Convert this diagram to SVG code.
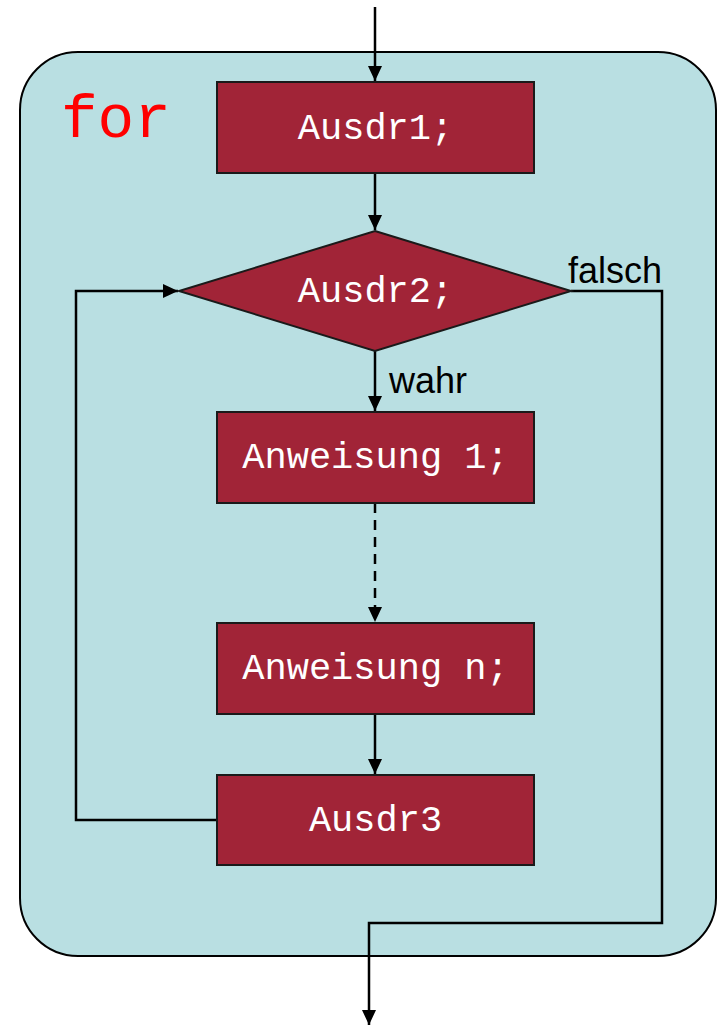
<svg xmlns="http://www.w3.org/2000/svg" width="721" height="1027" viewBox="0 0 721 1027">
<style>
.box{fill:#A12437;stroke:#1a1a1a;stroke-width:2}
.code{font-family:"Liberation Mono","DejaVu Sans Mono",monospace;font-size:37px;fill:#ffffff;text-anchor:middle}
.lbl{font-family:"Liberation Sans",Arial,sans-serif;font-size:36px;fill:#000}
.ln{fill:none;stroke:#000;stroke-width:2.5}
</style>
<defs>
<marker id="ah" markerWidth="16" markerHeight="16" viewBox="0 0 16 16" refX="15" refY="8" orient="auto" markerUnits="userSpaceOnUse">
<path d="M0,1 L15,8 L0,15 Z" fill="#000"/>
</marker>
</defs>
<g id="container">
<rect x="20" y="52" width="696" height="904" rx="58" ry="58" fill="#B9DFE2" stroke="#000" stroke-width="2"/>
<text x="61" y="137" font-family="Liberation Mono,monospace" font-size="61" fill="#FF0000">for</text>
</g>
<g id="connectors">
<line class="ln" x1="375" y1="7" x2="375" y2="81" marker-end="url(#ah)"/>
<line class="ln" x1="375" y1="173" x2="375" y2="230" marker-end="url(#ah)"/>
<line class="ln" x1="375" y1="351" x2="375" y2="411" marker-end="url(#ah)"/>
<line class="ln" x1="375" y1="503" x2="375" y2="622" stroke-dasharray="10,7" marker-end="url(#ah)"/>
<line class="ln" x1="375" y1="714" x2="375" y2="774" marker-end="url(#ah)"/>
<polyline class="ln" points="217,820 76,820 76,291 178,291" marker-end="url(#ah)"/>
<polyline class="ln" points="571,291 662,291 662,923 369,923 369,1025" marker-end="url(#ah)"/>
<text class="lbl" x="568" y="283">falsch</text>
<text class="lbl" x="389" y="393">wahr</text>
</g>
<g id="n1"><rect class="box" x="217" y="82" width="317" height="91"/><text class="code" x="375.5" y="139">Ausdr1;</text></g>
<g id="n2"><polygon class="box" points="375,231 571,291 375,351 179,291"/><text class="code" x="375.5" y="302">Ausdr2;</text></g>
<g id="n3"><rect class="box" x="217" y="412" width="317" height="91"/><text class="code" x="375.5" y="468">Anweisung 1;</text></g>
<g id="n4"><rect class="box" x="217" y="623" width="317" height="91"/><text class="code" x="375.5" y="679">Anweisung n;</text></g>
<g id="n5"><rect class="box" x="217" y="775" width="317" height="90"/><text class="code" x="375.5" y="831">Ausdr3</text></g>
</svg>
